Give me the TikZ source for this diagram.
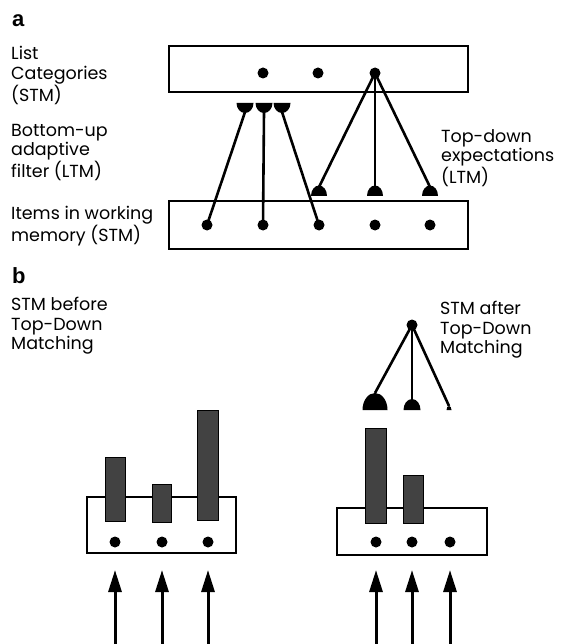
\documentclass[tikz,border=0pt]{standalone}
\usepackage{fontspec}
\setmainfont{Poppins}
\newfontfamily\labelfont{Liberation Sans}
\usetikzlibrary{arrows.meta}

\begin{document}
\begin{tikzpicture}[x=1pt,y=-1pt,
  dot/.style={circle,fill=black,inner sep=0pt,minimum size=11pt},
  panelbox/.style={draw=black,line width=2.2pt},
  wire/.style={line width=2.6pt},
  lbl/.style={anchor=north west,align=left,inner sep=0pt,font=\fontsize{17.5}{19.5}\selectfont},
  panel/.style={anchor=base west,inner sep=0pt,font=\labelfont\bfseries\fontsize{22}{22}\selectfont},
  bar/.style={draw=black,line width=1pt,fill=black!74},
  inarrow/.style={line width=3pt,-{Triangle[length=22pt,width=13pt]}}
]
\useasboundingbox (0,0) rectangle (560,644);

% ---------------- panel a ----------------
\node[panel] (la) at (12,27) {a};
\node[lbl] (tlist) at (11,46) {List\\Categories\\(STM)};
\node[lbl] (tbu) at (11,124) {Bottom-up\\adaptive\\filter (LTM)};
\node[lbl] (titems) at (11,206) {Items in working\\memory (STM)};
\node[lbl] (ttd) at (441,129) {Top-down\\expectations\\(LTM)};

\draw[panelbox] (169,46) rectangle (468,92);
\draw[panelbox] (169,201) rectangle (468,249);

\node[dot] (c1) at (263,73) {};
\node[dot] (c2) at (318,73) {};
\node[dot] (c3) at (375,73) {};

\node[dot] (i1) at (207,225) {};
\node[dot] (i2) at (263,225) {};
\node[dot] (i3) at (319,225) {};
\node[dot] (i4) at (375,225) {};
\node[dot] (i5) at (430,225) {};

% bottom-up filter heads (flat side up)
\coordinate (bu1) at (245,112);
\coordinate (bu2) at (264,112);
\coordinate (bu3) at (282,112);
\foreach \cx in {245,264,282}
  \fill (\cx-8.5,103) arc[start angle=180,end angle=0,x radius=8.5,y radius=10];
\draw[wire] (i1.center) -- (bu1);
\draw[wire] (i2.center) -- (bu2);
\draw[wire] (i3.center) -- (bu3);

% top-down expectation heads (flat side down)
\coordinate (td1) at (319,187);
\coordinate (td2) at (375,187);
\coordinate (td3) at (430,187);
\foreach \cx in {319,375,430}
  \fill (\cx-8,196) arc[start angle=180,end angle=360,x radius=8,y radius=10.5];
\draw[wire] (c3.center) -- (td1);
\draw[wire] (c3.center) -- (td2);
\draw[wire] (c3.center) -- (td3);

% ---------------- panel b ----------------
\node[panel] (lb) at (12,283) {b};
\node[lbl] (tbefore) at (11,297) {STM before\\Top-Down\\Matching};
\node[lbl] (tafter) at (440,301) {STM after\\Top-Down\\Matching};

% left: before matching
\draw[panelbox] (87,497) rectangle (236,553);
\draw[bar] (105,457) rectangle (125,521);
\draw[bar] (152,484) rectangle (171,522);
\draw[bar] (197,410) rectangle (218,520);
\node[dot] (p1) at (115,542) {};
\node[dot] (p2) at (162,542) {};
\node[dot] (p3) at (208,542) {};
\coordinate (s1) at (115,644);
\coordinate (s2) at (162,644);
\coordinate (s3) at (208,644);
\coordinate (t1) at (115,570);
\coordinate (t2) at (162,570);
\coordinate (t3) at (208,570);
\draw[inarrow] (s1) -- (t1);
\draw[inarrow] (s2) -- (t2);
\draw[inarrow] (s3) -- (t3);

% right: after matching
\draw[panelbox] (337,508) rectangle (487,555);
\draw[bar] (365,428) rectangle (386,523);
\draw[bar] (403,475) rectangle (423,523);
\node[dot] (q1) at (376,542) {};
\node[dot] (q2) at (412,542) {};
\node[dot] (q3) at (450,542) {};
\coordinate (u1) at (376,644);
\coordinate (u2) at (412,644);
\coordinate (u3) at (450,644);
\coordinate (v1) at (376,570);
\coordinate (v2) at (412,570);
\coordinate (v3) at (450,570);
\draw[inarrow] (u1) -- (v1);
\draw[inarrow] (u2) -- (v2);
\draw[inarrow] (u3) -- (v3);

% category node and its learned expectations
\node[dot] (cat) at (412,325) {};
\coordinate (h1) at (375,393);
\coordinate (h2) at (412,399);
\coordinate (h3) at (449,406);
\fill (362.5,410) arc[start angle=180,end angle=360,x radius=12.5,y radius=17];
\fill (403.5,410) arc[start angle=180,end angle=360,x radius=8.5,y radius=11];
\fill (446.5,410) arc[start angle=180,end angle=360,x radius=2.5,y radius=4];
\draw[wire] (cat.center) -- (h1);
\draw[wire] (cat.center) -- (h2);
\draw[wire] (cat.center) -- (h3);
\end{tikzpicture}
\end{document}
